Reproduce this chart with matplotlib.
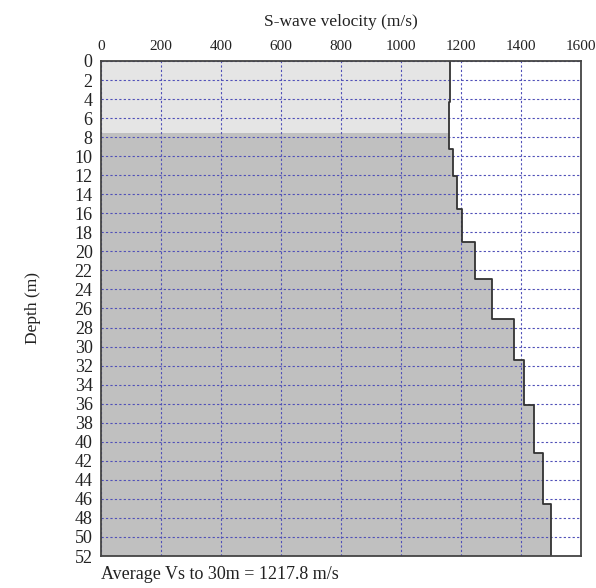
import numpy as np
import matplotlib
matplotlib.use("Agg")
import matplotlib.pyplot as plt

# layer tops (m) and shear-wave velocity (m/s) read from the profile
layer_top = [0, 4.3, 9.2, 12.1, 15.5, 19.0, 22.9, 27.1, 31.4, 36.1, 41.2, 46.5]
vs = [1163, 1160, 1174, 1188, 1203, 1248, 1304, 1377, 1410, 1442, 1472, 1500]
max_depth = 52
boundary_depth = 7.6
x_ticks = [0, 200, 400, 600, 800, 1000, 1200, 1400, 1600]
y_ticks = list(range(0, 54, 2))
note = "Average Vs to 30m = 1217.8 m/s"

plt.rcParams["font.family"] = ["Liberation Serif", "DejaVu Serif"]

fig = plt.figure(figsize=(5.96, 5.88), dpi=100)
ax = fig.add_axes([0.1695, 0.0544, 0.8055, 0.8419])

edges = layer_top + [max_depth]
d = np.repeat(edges, 2)[1:-1]
v = np.repeat(vs, 2)

# upper and lower zones share the same step profile
ax.fill_betweenx(np.clip(d, 0, boundary_depth), 0, v, color="#e5e5e5", lw=0, zorder=1)
ax.fill_betweenx(np.clip(d, boundary_depth, max_depth), 0, v, color="#c0c0c0", lw=0, zorder=1)
ax.plot(v, d, color="#333333", lw=1.3, zorder=3)

ax.set_xlim(0, 1600)
ax.set_ylim(max_depth, 0)
ax.set_xticks(x_ticks)
ax.set_yticks(y_ticks)
ax.xaxis.tick_top()
ax.xaxis.set_label_position("top")
ax.tick_params(length=0, labelsize=11, pad=6, colors="#222222")
ax.tick_params(axis="y", labelsize=13, pad=6)
ax.grid(True, color="#5050b8", linestyle=(0, (2.0, 2.0)), lw=0.8, zorder=2)
ax.set_axisbelow(False)
for s in ax.spines.values():
    s.set_color("#444444")
    s.set_linewidth(1.3)
    s.set_zorder(4)

ax.set_xlabel("S-wave velocity (m/s)", fontsize=12.5, labelpad=10, color="#222222")
ax.set_ylabel("Depth (m)", fontsize=12.5, labelpad=24, color="#222222")
ax.text(0, 53.0, note, fontsize=13, color="#222222", va="top", ha="left")

fig.savefig("out.png", dpi=100)
